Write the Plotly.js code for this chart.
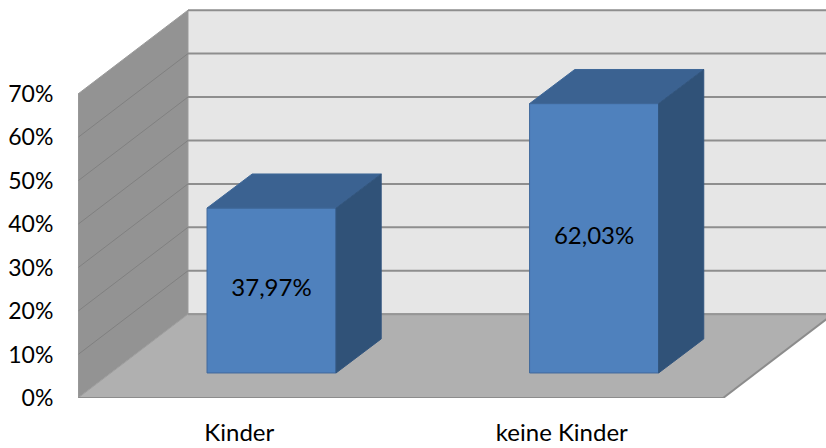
<!DOCTYPE html>
<html>
<head>
<meta charset="utf-8">
<script src="https://cdn.plot.ly/plotly-3.0.1.min.js"></script>
<style>html,body{margin:0;padding:0;background:#fff;overflow:hidden}</style>
</head>
<body>
<div id="chart" style="width:826px;height:448px"></div>
<script>
var categories = ['Kinder', 'keine Kinder'];
var values = [37.97, 62.03];
var valueLabels = ['37,97%', '62,03%'];
var yTicks = [0, 10, 20, 30, 40, 50, 60, 70];
var yTickLabels = ['0%', '10%', '20%', '30%', '40%', '50%', '60%', '70%'];

var FONT = 'Lato, Carlito, sans-serif';
var catPos = categories.map(function (_, i) { return i; });

// projected depth of the box, in axis units
var wallDX = 0.341, wallDY = 19.3;
var barShiftX = 0.1, barShiftY = 5.76;
var barDX = 0.14, barDY = 7.85;
var barW = 0.4;
var labelLift = 0.1;
var xMin = -0.5, xEnd = 1.5, xMax = 1.819, yMax = 91.64, yTop = 70;

function path(pts) {
  return 'M' + pts.map(function (p) { return p[0] + ',' + p[1]; }).join(' L') + ' Z';
}
function poly(pts, fill, lineColor, lineW) {
  return {type: 'path', xref: 'x', yref: 'y', layer: 'below', path: path(pts),
          fillcolor: fill, line: {color: lineColor || fill, width: lineW === undefined ? 1 : lineW}};
}
function seg(x0, y0, x1, y1, color, w) {
  return {type: 'line', xref: 'x', yref: 'y', layer: 'below', x0: x0, y0: y0, x1: x1, y1: y1,
          line: {color: color, width: w}};
}

var shapes = [];
// back wall, side wall, floor
shapes.push(poly([[xMin + wallDX, wallDY], [xMax + 1, wallDY], [xMax + 1, yTop + wallDY], [xMin + wallDX, yTop + wallDY]], '#e6e6e6', '#e6e6e6', 0));
shapes.push(poly([[xMin, 0], [xMin + wallDX, wallDY], [xMin + wallDX, yTop + wallDY], [xMin, yTop]], '#939393', '#9a9a9a', 1));
yTicks.forEach(function (t) {
  shapes.push(seg(xMin + wallDX, t + wallDY, xMax + 1, t + wallDY, '#8e8e8e', 2));
  if (t > 0 && t < yTop) shapes.push(seg(xMin, t, xMin + wallDX, t + wallDY, '#808080', 1));
});
shapes.push(poly([[xMin, 0], [xEnd, 0], [xEnd + wallDX, wallDY], [xMin + wallDX, wallDY]], '#b0b0b0', '#b0b0b0', 0));
shapes.push(seg(xMin + wallDX, wallDY, xMax + 1, wallDY, '#969696', 2));
shapes.push(seg(xMin, 0, xMin + wallDX, wallDY, '#9e9e9e', 1));
shapes.push(seg(xMin, 0, xEnd, 0, '#8c8c8c', 2));
shapes.push(seg(xEnd, 0, xEnd + wallDX, wallDY, '#8c8c8c', 2));
shapes.push(seg(xMin, 0, xMin, yTop, '#9a9a9a', 1));

var traces = [];
// front faces
traces.push({
  type: 'bar',
  x: catPos.map(function (p) { return p + barShiftX; }),
  y: values,
  base: barShiftY,
  width: barW,
  marker: {color: '#4f81bd', line: {color: '#41699b', width: 1}},
  hoverinfo: 'skip',
  showlegend: false
});
// top and side faces of each bar
values.forEach(function (v, i) {
  var l = catPos[i] + barShiftX - barW / 2, r = catPos[i] + barShiftX + barW / 2;
  var b = barShiftY, t = barShiftY + v;
  traces.push({
    type: 'scatter', mode: 'lines', fill: 'toself', fillcolor: '#3b6291',
    x: [l, r, r + barDX, l + barDX, l],
    y: [t, t, t + barDY, t + barDY, t],
    line: {color: '#3f6898', width: 1}, hoverinfo: 'skip', showlegend: false
  });
  traces.push({
    type: 'scatter', mode: 'lines', fill: 'toself', fillcolor: '#305278',
    x: [r, r + barDX, r + barDX, r, r],
    y: [b, b + barDY, t + barDY, t, b],
    line: {color: '#32557e', width: 1}, hoverinfo: 'skip', showlegend: false
  });
});
// value labels
traces.push({
  type: 'scatter', mode: 'text',
  x: catPos.map(function (p) { return p + barShiftX; }),
  y: values.map(function (v) { return barShiftY + v / 2 + labelLift; }),
  text: valueLabels,
  textposition: 'middle center',
  textfont: {family: FONT, size: 24, color: '#000000'},
  hoverinfo: 'skip', showlegend: false
});

var layout = {
  width: 826, height: 448,
  margin: {l: 78, r: 0, t: 0, b: 50, pad: 0},
  paper_bgcolor: '#ffffff', plot_bgcolor: '#ffffff',
  showlegend: false, bargap: 0,
  font: {family: FONT, size: 24, color: '#000000'},
  shapes: shapes,
  xaxis: {
    range: [xMin, xMax], showgrid: false, zeroline: false, showline: false,
    tickmode: 'array', tickvals: catPos, ticktext: categories,
    ticks: 'outside', ticklen: 13, tickcolor: 'rgba(0,0,0,0)',
    tickfont: {family: FONT, size: 24, color: '#000000'}
  },
  yaxis: {
    range: [0, yMax], showgrid: false, zeroline: false, showline: false,
    tickmode: 'array', tickvals: yTicks, ticktext: yTickLabels,
    ticks: 'outside', ticklen: 19, tickcolor: 'rgba(0,0,0,0)',
    tickfont: {family: FONT, size: 23, color: '#000000'}
  }
};
Plotly.newPlot('chart', traces, layout, {displayModeBar: false, staticPlot: true});
</script>
</body>
</html>
